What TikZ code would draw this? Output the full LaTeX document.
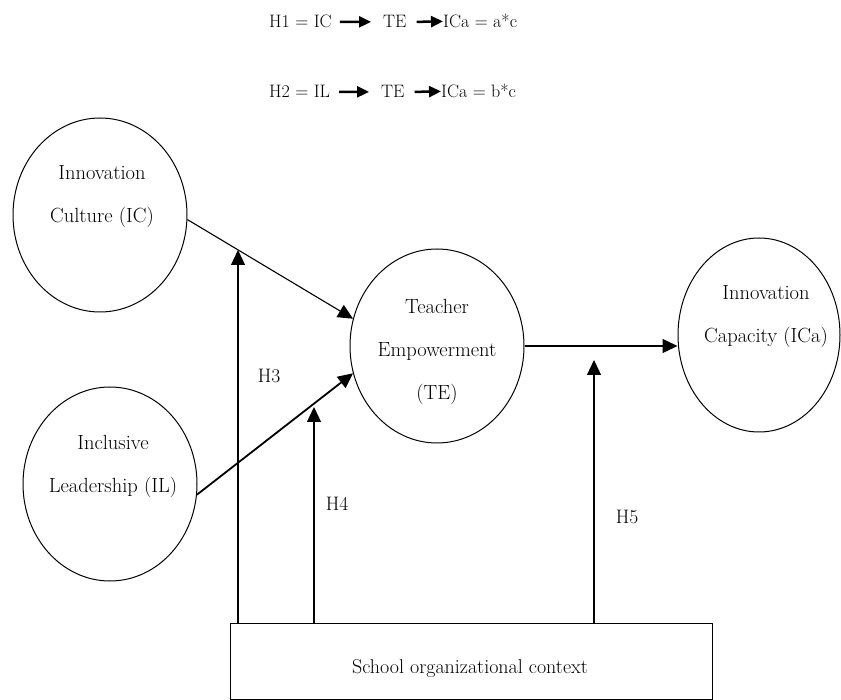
\documentclass[tikz,border=0pt]{standalone}
\usetikzlibrary{arrows.meta,shapes.geometric}
\tikzset{
  construct/.style={ellipse, draw, line width=1pt, inner sep=0pt, minimum width=174pt, minimum height=194pt},
  lbl/.style={align=center, font=\fontsize{20.5}{43}\selectfont, inner sep=0pt},
  link/.style={-{Triangle[length=15pt,width=14pt]}, line width=1.3pt},
  flowtxt/.style={font=\fontsize{18}{20}\selectfont, inner sep=0pt, anchor=base west},
  bigarrow/.style={-{Triangle[length=12pt,width=11pt]}, line width=2.5pt},
  hyp/.style={font=\fontsize{19.5}{22}\selectfont, inner sep=0pt}
}
\begin{document}
\begin{tikzpicture}[x=1pt,y=-1pt]
\useasboundingbox (0,0) rectangle (841,700);
% top equations
\node[flowtxt] (h1a) at (269,28) {H1 = IC};
\node[flowtxt] (h1b) at (383,28) {TE};
\node[flowtxt] (h1c) at (443,28) {ICa = a*c};
\draw[bigarrow] ([xshift=8pt]h1a.east) -- ([xshift=-12pt]h1b.west);
\draw[bigarrow] ([xshift=10pt]h1b.east) -- (h1c.west);
\node[flowtxt] (h2a) at (269,98) {H2 = IL};
\node[flowtxt] (h2b) at (381,98) {TE};
\node[flowtxt] (h2c) at (441,98) {ICa = b*c};
\draw[bigarrow] ([xshift=9pt]h2a.east) -- ([xshift=-12pt]h2b.west);
\draw[bigarrow] ([xshift=10pt]h2b.east) -- (h2c.west);
% constructs
\node[construct] (IC) at (100,215) {};
\node[lbl] (ICt) at (102,197) {Innovation\\Culture (IC)};
\node[construct] (IL) at (110,484) {};
\node[lbl] (ILt) at (113,466) {Inclusive\\Leadership (IL)};
\node[construct] (TE) at (437,346) {};
\node[lbl] (TEt) at (437,352) {Teacher\\Empowerment\\(TE)};
\node[construct, minimum width=162pt] (ICa) at (759,335) {};
\node[lbl] (ICat) at (766,317) {Innovation\\Capacity (ICa)};
% context box
\node[draw, line width=1pt, minimum width=482pt, minimum height=76pt, inner sep=0pt] (ctx) at (471,661) {};
\node[hyp, font=\fontsize{20}{22}\selectfont] (ctxt) at (470,669) {School organizational context};
% main paths
\draw[link, line width=1.1pt] (IC.-3) -- (TE.162);
\draw[link, line width=1.8pt] (IL.-7) -- (TE.198);
\draw[link] (TE.east) -- (ICa.west |- TE.east);
% moderation
\coordinate (h3tip) at (238,250);
\coordinate (h4tip) at (314,407);
\coordinate (h5tip) at (594,360);
\draw[link] (ctx.north -| h3tip) -- (h3tip);
\draw[link] (ctx.north -| h4tip) -- (h4tip);
\draw[link] (ctx.north -| h5tip) -- (h5tip);
\node[hyp] (H3) at (269,376) {H3};
\node[hyp] (H4) at (337,504) {H4};
\node[hyp] (H5) at (627,517) {H5};
\end{tikzpicture}
\end{document}
